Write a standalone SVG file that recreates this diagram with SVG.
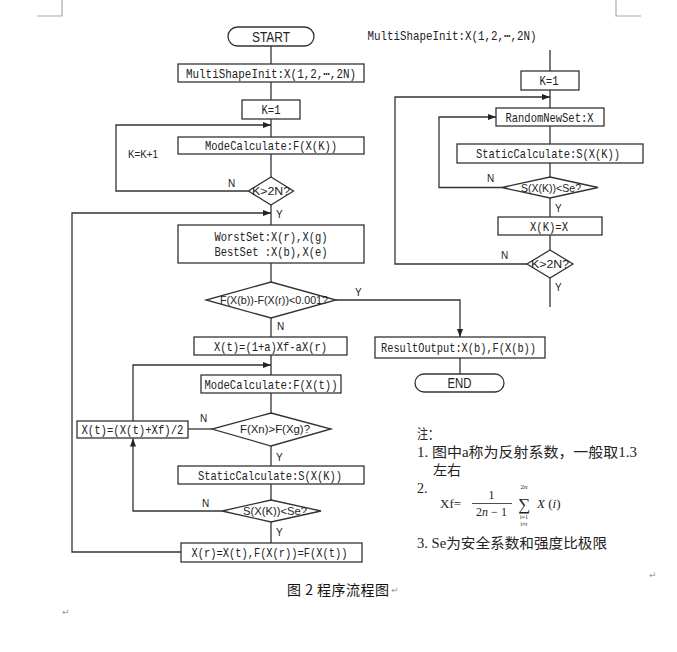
<svg xmlns="http://www.w3.org/2000/svg" width="677" height="652" viewBox="0 0 677 652">
<defs>
<marker id="arr" markerUnits="userSpaceOnUse" markerWidth="9" markerHeight="7" refX="8" refY="3" orient="auto">
<path d="M0,0 L8,3 L0,6 z" fill="#222"/>
</marker>
<style>
.box{fill:#fff;stroke:#333;stroke-width:1.3}
.ln{fill:none;stroke:#333;stroke-width:1.3}
.mono{font-family:"Liberation Mono","DejaVu Sans Mono",monospace;font-size:13px;fill:#222}
.sans{font-family:"Liberation Sans",Arial,sans-serif;fill:#222}
.dia{font-size:11px}
.lbl{font-size:10px}
.note{font-family:"Liberation Serif","Noto Sans CJK SC",serif;font-size:14px;fill:#222}
.mark{fill:none;stroke:#aaa;stroke-width:1.2}
.ret{font-family:"DejaVu Sans",sans-serif;font-size:9px;fill:#999}
</style>
</defs>
<rect width="677" height="652" fill="#fff"/>

<!-- page corner marks -->
<path class="mark" d="M62,0 V16 H37"/>
<path class="mark" d="M616,0 V16 H641"/>

<g id="connectors">
<!-- left main flow -->
<path class="ln" d="M271,46 V64"/>
<path class="ln" d="M271,82 V100"/>
<path class="ln" d="M271,119 V137"/>
<path class="ln" d="M271,154 V177"/>
<path class="ln" d="M271,205 V225"/>
<path class="ln" d="M271,263 V282"/>
<path class="ln" d="M271,318 V337"/>
<path class="ln" d="M271,355 V375"/>
<path class="ln" d="M271,393 V413"/>
<path class="ln" d="M271,446 V466"/>
<path class="ln" d="M271,484 V500"/>
<path class="ln" d="M271,522 V543"/>
<!-- loops -->
<path class="ln" d="M248.5,191 H116 V125 H271" marker-end="url(#arr)"/>
<path class="ln" d="M181,552 H72 V213 H271" marker-end="url(#arr)"/>
<path class="ln" d="M212,429 H188"/>
<path class="ln" d="M133,421 V365 H271" marker-end="url(#arr)"/>
<path class="ln" d="M222,511 H133 V438.5" marker-end="url(#arr)"/>
<path class="ln" d="M336,300 H460 V337" marker-end="url(#arr)"/>
<path class="ln" d="M460,358 V374"/>
<!-- right flow -->
<path class="ln" d="M550,50 V71"/>
<path class="ln" d="M550,90 V108"/>
<path class="ln" d="M550,126 V144"/>
<path class="ln" d="M550,163 V177"/>
<path class="ln" d="M550,198 V217"/>
<path class="ln" d="M550,235 V250"/>
<path class="ln" d="M550,278 V307"/>
<path class="ln" d="M502,187.5 H439 V117 H496" marker-end="url(#arr)"/>
<path class="ln" d="M527,264 H395 V97 H550" marker-end="url(#arr)"/>
</g>

<g id="labels" class="sans lbl">
<text x="128" y="158" textLength="30" lengthAdjust="spacingAndGlyphs">K=K+1</text>
<text x="228" y="187">N</text>
<text x="276" y="218">Y</text>
<text x="355" y="296">Y</text>
<text x="277" y="330">N</text>
<text x="200" y="422">N</text>
<text x="276" y="461">Y</text>
<text x="202" y="507">N</text>
<text x="276" y="536">Y</text>
<text x="487" y="182">N</text>
<text x="555" y="212">Y</text>
<text x="501" y="259">N</text>
<text x="555" y="291">Y</text>
</g>

<g id="start">
<rect class="box" x="228" y="27" width="86" height="19" rx="9.5"/>
<text class="sans" x="271" y="41.5" font-size="14" text-anchor="middle" textLength="38" lengthAdjust="spacingAndGlyphs">START</text>
</g>
<g id="init">
<rect class="box" x="178" y="64" width="186" height="18"/>
<text class="mono" x="271" y="77.5" text-anchor="middle" textLength="170" lengthAdjust="spacingAndGlyphs">MultiShapeInit:X(1,2,⋯,2N)</text>
</g>
<g id="k1">
<rect class="box" x="242" y="100" width="58" height="19"/>
<text class="mono" x="271" y="114" text-anchor="middle" textLength="19" lengthAdjust="spacingAndGlyphs">K=1</text>
</g>
<g id="mode1">
<rect class="box" x="178" y="137" width="186" height="17"/>
<text class="mono" x="271" y="150" text-anchor="middle" textLength="132" lengthAdjust="spacingAndGlyphs">ModeCalculate:F(X(K))</text>
</g>
<g id="dk1">
<polygon class="box" points="271,177 293.5,191 271,205 248.5,191"/>
<text class="sans" x="271" y="195" font-size="11" text-anchor="middle" textLength="38" lengthAdjust="spacingAndGlyphs">K&gt;2N?</text>
</g>
<g id="sets">
<rect class="box" x="178" y="225" width="186" height="38"/>
<text class="mono" x="271" y="240.5" text-anchor="middle" textLength="113" lengthAdjust="spacingAndGlyphs">WorstSet:X(r),X(g)</text>
<text class="mono" x="271" y="256" text-anchor="middle" textLength="113" lengthAdjust="spacingAndGlyphs">BestSet :X(b),X(e)</text>
</g>
<g id="dconv">
<polygon class="box" points="271,282 336,300 271,318 206,300"/>
<text class="sans" x="274" y="304" font-size="10.5" text-anchor="middle" textLength="108" lengthAdjust="spacingAndGlyphs">F(X(b))-F(X(r))&lt;0.001?</text>
</g>
<g id="refl">
<rect class="box" x="194" y="337" width="153" height="18"/>
<text class="mono" x="270.5" y="350.5" text-anchor="middle" textLength="113" lengthAdjust="spacingAndGlyphs">X(t)=(1+a)Xf-aX(r)</text>
</g>
<g id="mode2">
<rect class="box" x="201" y="375" width="140" height="18"/>
<text class="mono" x="271" y="388.5" text-anchor="middle" textLength="133" lengthAdjust="spacingAndGlyphs">ModeCalculate:F(X(t))</text>
</g>
<g id="dfx">
<polygon class="box" points="271,413 331,429 271,446 212,429"/>
<text class="sans dia" x="275" y="433" text-anchor="middle" textLength="70" lengthAdjust="spacingAndGlyphs">F(Xn)&gt;F(Xg)?</text>
</g>
<g id="half">
<rect class="box" x="77" y="421" width="111" height="17"/>
<text class="mono" x="132.5" y="434" font-size="12" text-anchor="middle" textLength="102" lengthAdjust="spacingAndGlyphs">X(t)=(X(t)+Xf)/2</text>
</g>
<g id="static1">
<rect class="box" x="178" y="466" width="186" height="18"/>
<text class="mono" x="270" y="479.5" text-anchor="middle" textLength="144" lengthAdjust="spacingAndGlyphs">StaticCalculate:S(X(K))</text>
</g>
<g id="ds1">
<polygon class="box" points="271,500 321,511 271,522 222,511"/>
<text class="sans dia" x="275" y="515" text-anchor="middle" textLength="64" lengthAdjust="spacingAndGlyphs">S(X(K))&lt;Se?</text>
</g>
<g id="replace">
<rect class="box" x="181" y="543" width="181" height="19"/>
<text class="mono" x="269.5" y="557" text-anchor="middle" textLength="156" lengthAdjust="spacingAndGlyphs">X(r)=X(t),F(X(r))=F(X(t))</text>
</g>
<g id="result">
<rect class="box" x="375" y="337" width="170" height="21"/>
<text class="mono" x="458.5" y="352" text-anchor="middle" textLength="155" lengthAdjust="spacingAndGlyphs">ResultOutput:X(b),F(X(b))</text>
</g>
<g id="end">
<rect class="box" x="415" y="374" width="89" height="18" rx="9"/>
<text class="sans" x="459.5" y="388" font-size="14" text-anchor="middle" textLength="24" lengthAdjust="spacingAndGlyphs">END</text>
</g>

<!-- right sub-flow -->
<g id="rinit">
<text class="mono" x="452" y="40" text-anchor="middle" textLength="169" lengthAdjust="spacingAndGlyphs">MultiShapeInit:X(1,2,⋯,2N)</text>
</g>
<g id="rk1">
<rect class="box" x="521" y="71" width="58" height="19"/>
<text class="mono" x="549" y="85" text-anchor="middle" textLength="19" lengthAdjust="spacingAndGlyphs">K=1</text>
</g>
<g id="rrandom">
<rect class="box" x="496" y="108" width="108" height="18"/>
<text class="mono" x="549.5" y="121.5" text-anchor="middle" textLength="88" lengthAdjust="spacingAndGlyphs">RandomNewSet:X</text>
</g>
<g id="rstatic">
<rect class="box" x="457" y="144" width="186" height="19"/>
<text class="mono" x="548" y="158" text-anchor="middle" textLength="144" lengthAdjust="spacingAndGlyphs">StaticCalculate:S(X(K))</text>
</g>
<g id="rds">
<polygon class="box" points="550,177 598,187.5 550,198 502,187.5"/>
<text class="sans dia" x="551" y="191.5" text-anchor="middle" textLength="60" lengthAdjust="spacingAndGlyphs">S(X(K))&lt;Se?</text>
</g>
<g id="rassign">
<rect class="box" x="498" y="217" width="104" height="18"/>
<text class="mono" x="549" y="230.5" text-anchor="middle" textLength="38" lengthAdjust="spacingAndGlyphs">X(K)=X</text>
</g>
<g id="rdk">
<polygon class="box" points="550,250 573,264 550,278 527,264"/>
<text class="sans" x="550" y="268" font-size="11" text-anchor="middle" textLength="38" lengthAdjust="spacingAndGlyphs">K&gt;2N?</text>
</g>

<!-- notes -->
<g id="notes" class="note">
<text x="417" y="439" textLength="22" lengthAdjust="spacingAndGlyphs">注：</text>
<text x="417" y="457" textLength="220" lengthAdjust="spacingAndGlyphs">1. 图中a称为反射系数，一般取1.3</text>
<text x="433" y="475" textLength="28" lengthAdjust="spacingAndGlyphs">左右</text>
<text x="417" y="493">2.</text>
<text x="440" y="508" font-size="13">Xf=</text>
<text x="491.5" y="499" font-size="12" text-anchor="middle">1</text>
<line x1="472" y1="503.5" x2="512" y2="503.5" stroke="#222" stroke-width="0.8"/>
<text x="491.5" y="516" font-size="12" text-anchor="middle">2<tspan font-style="italic">n</tspan> − 1</text>
<text x="524" y="510" font-size="17" text-anchor="middle">∑</text>
<text x="524" y="489" font-size="7" text-anchor="middle">2<tspan font-style="italic">n</tspan></text>
<text x="524" y="519" font-size="6" text-anchor="middle">i=1</text>
<text x="524" y="526" font-size="6" text-anchor="middle">i≠r</text>
<text x="537" y="508" font-size="13"><tspan font-style="italic">X</tspan> (<tspan font-style="italic">i</tspan>)</text>
<text x="417" y="548" textLength="190" lengthAdjust="spacingAndGlyphs">3. Se为安全系数和强度比极限</text>
</g>

<!-- caption -->
<g id="caption">
<text x="287" y="595" font-family="'Noto Sans CJK SC',sans-serif" font-size="14" fill="#111" textLength="102" lengthAdjust="spacing">图 2 程序流程图</text>
<text class="ret" x="391" y="593">↵</text>
<text class="ret" x="649" y="578">↵</text>
<text class="ret" x="62" y="615">↵</text>
</g>
</svg>
